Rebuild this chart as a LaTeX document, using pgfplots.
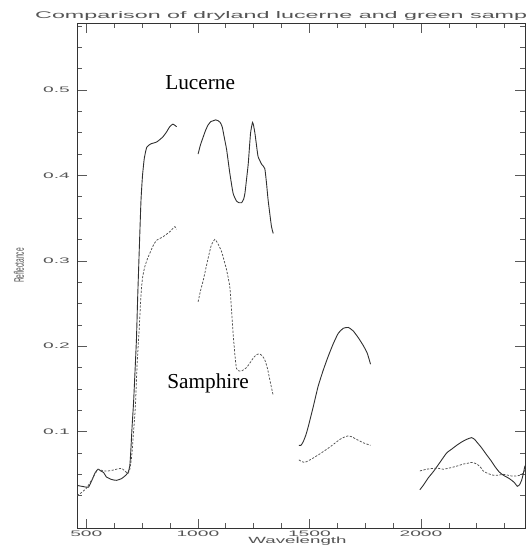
\documentclass[border=0pt]{standalone}
\usepackage{pgfplots}
\pgfplotsset{compat=1.18}
\usepackage{fontspec}
\setmainfont{Liberation Sans}
\newfontfamily\serifTNR{Liberation Serif}
\newcommand\wide[1]{\scalebox{2.4}[1]{#1}}
\definecolor{lc}{HTML}{303030}
\definecolor{sc}{HTML}{505050}
\definecolor{tc}{HTML}{555555}
\begin{document}
\begin{tikzpicture}
\useasboundingbox (0,0) rectangle (527pt,547pt);
\begin{axis}[
  scale only axis, width=448pt, height=505pt,
  at={(77pt,19pt)}, anchor=south west,
  xmin=458.3, xmax=2466.3, ymin=-0.0128, ymax=0.5784,
  axis line style={draw=black!80, line width=0.9pt},
  tick align=inside,
  major tick length=9.5pt, minor tick length=5pt,
  every tick/.style={draw=black!65, line width=0.6pt},
  xtick={500,1000,1500,2000},
  xticklabels={\wide{500},\wide{1000},\wide{1500},\wide{2000}},
  minor xtick={625,750,875,1125,1250,1375,1625,1750,1875,2125,2250,2375},
  ytick={0.1,0.2,0.3,0.4,0.5},
  yticklabels={\wide{0.1},\wide{0.2},\wide{0.3},\wide{0.4},\wide{0.5}},
  minor ytick={0.025,0.05,0.075,0.125,0.15,0.175,0.225,0.25,0.275,0.325,0.35,0.375,0.425,0.45,0.475,0.525,0.55,0.575},
  xticklabel style={anchor=north, inner sep=0pt, yshift=-2.5pt, font=\fontsize{8}{8}\selectfont, text=tc},
  yticklabel style={anchor=east, inner sep=0pt, xshift=-7pt, font=\fontsize{8}{8}\selectfont, text=tc},
  lucerne/.style={draw=lc, line width=0.9pt, smooth, tension=0.3},
  samphire/.style={draw=sc, line width=0.75pt, smooth, tension=0.3, dash pattern=on 2.2pt off 1.5pt},
]
% Lucerne (solid)
\addplot[lucerne] coordinates {
(459,0.037) (480,0.036) (500,0.035) (510,0.035) (525,0.043) (540,0.052) (553,0.056)
(565,0.054) (578,0.052) (590,0.047) (613,0.044) (635,0.043) (658,0.045) (677,0.049)
(687,0.052) (695,0.060) (700,0.080) (705,0.105) (712,0.135) (720,0.18) (725,0.21)
(730,0.255) (737,0.31) (745,0.37) (752,0.40) (760,0.42) (771,0.433) (790,0.437)
(815,0.439) (843,0.445) (860,0.451) (874,0.457) (888,0.460) (905,0.457)};
\addplot[lucerne] coordinates {
(1001,0.425) (1012,0.436) (1024,0.445) (1035,0.453) (1046,0.459) (1058,0.463) (1069,0.464)
(1080,0.465) (1091,0.464) (1100,0.462) (1109,0.457) (1118,0.445) (1129,0.43) (1143,0.403)
(1158,0.379) (1173,0.370) (1185,0.368) (1196,0.368) (1205,0.372) (1211,0.379) (1218,0.395)
(1226,0.414) (1236,0.449) (1245,0.462) (1250,0.458) (1256,0.449) (1263,0.435) (1270,0.422)
(1286,0.413) (1300,0.408) (1308,0.39) (1315,0.371) (1330,0.340) (1338,0.332)};
\addplot[lucerne] coordinates {
(1453,0.084) (1462,0.084) (1472,0.088) (1484,0.096) (1495,0.106) (1517,0.129) (1539,0.153)
(1562,0.172) (1584,0.188) (1607,0.203) (1629,0.215) (1652,0.221) (1674,0.222) (1696,0.218)
(1719,0.210) (1741,0.201) (1759,0.192) (1774,0.179)};
\addplot[lucerne] coordinates {
(1995,0.032) (2010,0.037) (2033,0.046) (2055,0.053) (2085,0.064) (2115,0.075) (2140,0.080)
(2160,0.084) (2183,0.088) (2205,0.091) (2227,0.093) (2240,0.091) (2250,0.088) (2272,0.081)
(2294,0.073) (2314,0.066) (2332,0.059) (2350,0.053) (2369,0.049) (2390,0.046) (2407,0.043)
(2420,0.040) (2432,0.036) (2442,0.038) (2451,0.043) (2458,0.050) (2466,0.060)};
% Samphire (dashed)
\addplot[samphire] coordinates {
(459,0.025) (480,0.029) (501,0.034) (523,0.043) (540,0.051) (553,0.056) (575,0.054)
(598,0.054) (620,0.055) (635,0.056) (658,0.057) (677,0.053) (687,0.051) (695,0.056)
(703,0.07) (712,0.10) (720,0.13) (728,0.18) (737,0.22) (745,0.26) (752,0.28) (762,0.293)
(775,0.303) (785,0.309) (800,0.318) (815,0.324) (843,0.328) (874,0.334) (897,0.340) (905,0.337)};
\addplot[samphire] coordinates {
(1001,0.252) (1012,0.265) (1024,0.277) (1035,0.290) (1046,0.303) (1060,0.318) (1076,0.325)
(1090,0.320) (1106,0.311) (1118,0.300) (1129,0.289) (1143,0.27) (1150,0.245) (1158,0.215)
(1166,0.19) (1173,0.174) (1185,0.171) (1196,0.171) (1218,0.175) (1235,0.181) (1248,0.186)
(1262,0.190) (1275,0.191) (1288,0.189) (1300,0.184) (1312,0.174) (1323,0.160) (1338,0.142)};
\addplot[samphire] coordinates {
(1453,0.067) (1465,0.065) (1480,0.064) (1495,0.066) (1510,0.068) (1547,0.074) (1592,0.082)
(1637,0.091) (1660,0.094) (1674,0.095) (1690,0.094) (1704,0.092) (1741,0.087) (1774,0.084)};
\addplot[samphire] coordinates {
(1995,0.054) (2025,0.056) (2055,0.057) (2080,0.057) (2100,0.056) (2137,0.058) (2165,0.060)
(2189,0.062) (2210,0.063) (2227,0.064) (2242,0.063) (2256,0.061) (2268,0.058) (2279,0.054)
(2300,0.051) (2324,0.049) (2345,0.049) (2369,0.050) (2390,0.049) (2407,0.048) (2425,0.048)
(2444,0.049) (2456,0.051) (2466,0.055)};
\node[anchor=base west, inner sep=0pt, font=\serifTNR\fontsize{21.3}{22}\selectfont] at (axis cs:853,0.501) {Lucerne};
\node[anchor=base west, inner sep=0pt, font=\serifTNR\fontsize{21.3}{22}\selectfont] at (axis cs:862,0.151) {Samphire};
\end{axis}
\node[anchor=base west, inner sep=0pt, text=tc] at (35pt,528pt) {\resizebox{492pt}{7pt}{Comparison of dryland lucerne and green samp}};
\node[anchor=base, inner sep=0pt, text=tc] at (297.5pt,3pt) {\resizebox{98pt}{6.5pt}{Wavelength}};
\node[inner sep=0pt, text=tc, rotate=90] at (19pt,281.5pt) {\resizebox{35pt}{10pt}{Reflectance}};
\end{tikzpicture}
\end{document}
